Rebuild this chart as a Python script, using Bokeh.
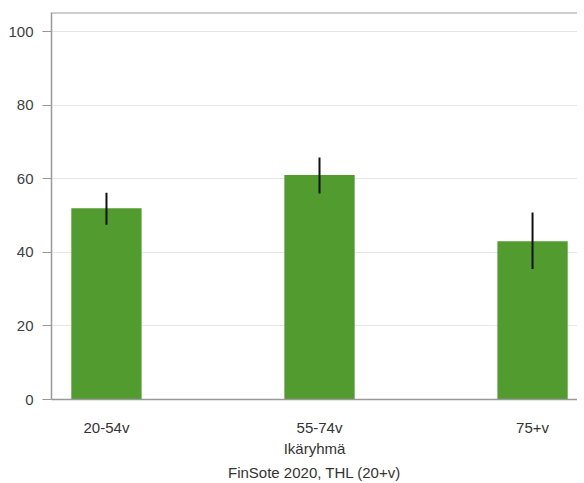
from bokeh.plotting import figure
from bokeh.models import Range1d, FixedTicker, Span, Title, ColumnDataSource
from bokeh.embed import file_html
from bokeh.resources import INLINE

categories = ["20-54v", "55-74v", "75+v"]
values = [52, 61, 43]
lower = [47.5, 56, 35.5]
upper = [56.2, 65.8, 50.8]
y_ticks = [0, 20, 40, 60, 80, 100]

xs = list(range(len(categories)))
src = ColumnDataSource(dict(x=xs, top=values, lower=lower, upper=upper))

FONT = "Liberation Sans"
FS = "15px"

p = figure(frame_width=526, frame_height=387, output_backend="svg", toolbar_location=None,
           x_range=Range1d(-0.258, 2.211), y_range=Range1d(0, 105.2),
           min_border_left=51, min_border_top=12, min_border_right=0, min_border_bottom=10)
p.vbar(x="x", top="top", width=0.33, source=src, fill_color="#519b2f", line_color=None)
p.segment(x0="x", x1="x", y0="lower", y1="upper", source=src, line_color="#111111", line_width=2)

p.xgrid.grid_line_color = None
p.ygrid.grid_line_color = "#e6e6e6"
p.ygrid.ticker = FixedTicker(ticks=y_ticks)
p.outline_line_color = None
p.add_layout(Span(location=105.2, dimension="width", line_color="#a0a0a0", line_width=2))
p.add_layout(Span(location=2.211, dimension="height", line_color="#eeeeee", line_width=1))

p.yaxis.ticker = FixedTicker(ticks=y_ticks)
p.yaxis.axis_line_color = "#999999"
p.yaxis.axis_line_width = 1.5
p.yaxis.major_tick_line_color = "#999999"
p.yaxis.major_tick_out = 9
p.yaxis.major_tick_in = 0
p.yaxis.minor_tick_line_color = None
p.yaxis.major_label_standoff = 9
p.yaxis.major_label_text_font = FONT
p.yaxis.major_label_text_font_size = FS
p.yaxis.major_label_text_color = "#404040"

p.xaxis.ticker = FixedTicker(ticks=xs)
p.xaxis.major_label_overrides = {i: c for i, c in enumerate(categories)}
p.xaxis.axis_line_color = "#999999"
p.xaxis.axis_line_width = 1.5
p.xaxis.major_tick_line_color = None
p.xaxis.minor_tick_line_color = None
p.xaxis.major_label_standoff = 13
p.xaxis.major_label_text_font = FONT
p.xaxis.major_label_text_font_size = FS
p.xaxis.major_label_text_color = "#333333"
p.xaxis.axis_label = "Ikäryhmä"
p.xaxis.axis_label_standoff = 1
p.xaxis.axis_label_text_font = FONT
p.xaxis.axis_label_text_font_size = FS
p.xaxis.axis_label_text_font_style = "normal"
p.xaxis.axis_label_text_color = "#333333"

p.add_layout(Title(text="FinSote 2020, THL (20+v)", align="center", text_font=FONT,
                   text_font_size=FS, text_font_style="normal", text_color="#333333",
                   standoff=5), "below")

open("out.html", "w").write(file_html(p, INLINE))
